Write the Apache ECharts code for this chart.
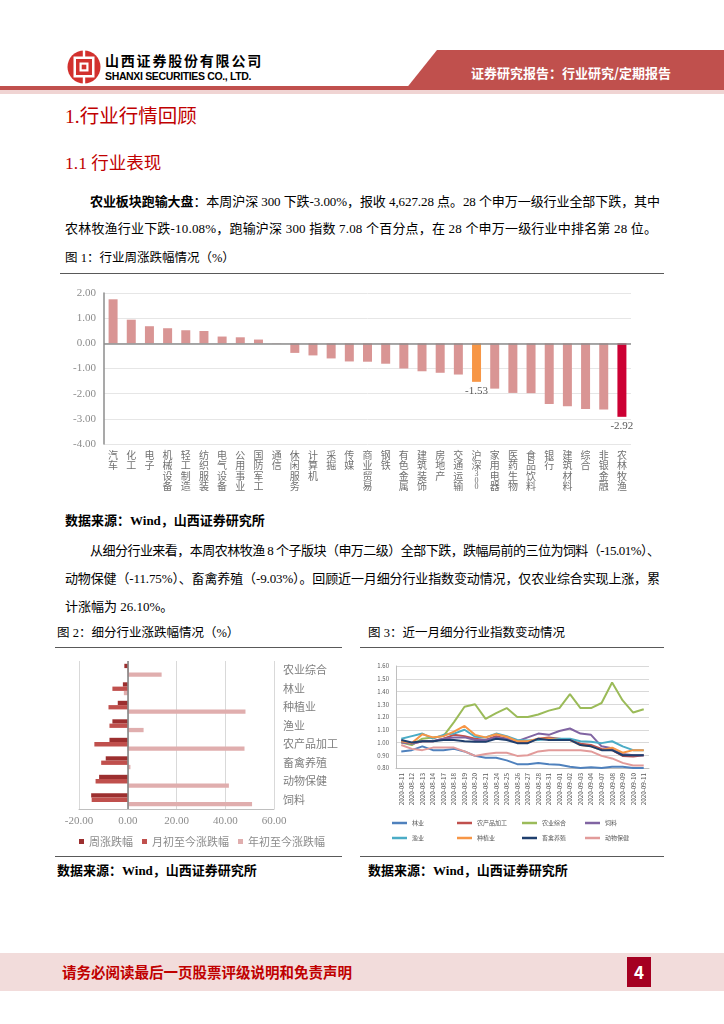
<!DOCTYPE html>
<html><head><meta charset="utf-8">
<script src="https://cdn.jsdelivr.net/npm/echarts@6/dist/echarts.min.js"></script>
<style>
html,body{margin:0;padding:0;background:#fff;}
body{width:724px;height:1024px;position:relative;overflow:hidden;font-family:"Liberation Serif","Noto Sans CJK SC",serif;color:#000;}
.a{position:absolute;white-space:nowrap;}
.t{font-size:13px;line-height:16px;}
.j{white-space:nowrap;}
.hl{position:absolute;height:1px;background:#595959;}
.sans{font-family:"Noto Sans CJK SC",sans-serif;}
</style></head>
<body>
<!-- header -->
<svg class="a" style="left:66px;top:49px" width="36" height="36" viewBox="-18 -18 36 36">
  <circle r="16.5" fill="#d2312e"/>
  <rect x="-10.5" y="-10.5" width="21" height="21" fill="#fff"/>
  <rect x="-8" y="-8" width="16" height="16" fill="#d2312e"/>
  <rect x="-4.5" y="-4.5" width="9" height="9" fill="#fff"/>
  <rect x="-2.3" y="-2.3" width="4.6" height="4.6" fill="#d2312e"/>
  <rect x="-1.2" y="-18" width="2.4" height="8" fill="#fff"/>
  <rect x="-1.2" y="10" width="2.4" height="8" fill="#fff"/>
</svg>
<div class="a sans" style="left:105px;top:51px;font-size:14px;line-height:18px;font-weight:700;letter-spacing:1.8px;">山西证券股份有限公司</div>
<div class="a" style="left:105px;top:70px;font-size:10.5px;line-height:13px;font-weight:700;font-family:'Liberation Sans',Arial,sans-serif;letter-spacing:-0.35px;">SHANXI SECURITIES CO., LTD.</div>
<div class="a" style="left:0;top:50px;width:724px;height:40px;background:#c0504d;clip-path:polygon(437px 0,724px 0,724px 100%,405px 100%);"></div>
<div class="a sans" style="left:471px;top:64px;font-size:13px;line-height:18px;font-weight:700;color:#fff;">证券研究报告：行业研究/定期报告</div>
<div class="a" style="left:0;top:86px;width:724px;height:4px;background:#c0504d;"></div>
<div class="a" style="left:0;top:90px;width:724px;height:4px;background:#f0d4d3;"></div>

<div class="a" style="left:65px;top:105px;font-size:19.5px;line-height:24px;color:#c00000;">1.行业行情回顾</div>
<div class="a" style="left:65px;top:152px;font-size:17.5px;line-height:22px;color:#c00000;">1.1 行业表现</div>

<div class="a t j" data-w="570" style="left:90px;top:193px;"><b class="sans" style="font-weight:700">农业板块跑输大盘</b>：本周沪深 300 下跌-3.00%，报收 4,627.28 点。28 个申万一级行业全部下跌，其中</div>
<div class="a t j" data-w="592" style="left:65px;top:221px;">农林牧渔行业下跌-10.08%，跑输沪深 300 指数 7.08 个百分点，在 28 个申万一级行业中排名第 28 位。</div>

<div class="a t" style="left:65px;top:250px;font-size:12.5px;">图 1：行业周涨跌幅情况（%）</div>
<div class="hl" style="left:60px;top:273px;width:604px;"></div>
<div id="c1" class="a" style="left:0;top:280px;width:724px;height:230px;"></div>
<div class="a t" style="left:65px;top:513px;font-weight:700;">数据来源：Wind，山西证券研究所</div>

<div class="a t j" data-w="570" style="left:90px;top:543px;">从细分行业来看，本周农林牧渔 8 个子版块（申万二级）全部下跌，跌幅局前的三位为饲料（-15.01%）、</div>
<div class="a t j" data-w="595" style="left:65px;top:571px;">动物保健（-11.75%）、畜禽养殖（-9.03%）。回顾近一月细分行业指数变动情况，仅农业综合实现上涨，累</div>
<div class="a t" style="left:65px;top:599px;">计涨幅为 26.10%。</div>

<div class="a t" style="left:57px;top:625px;font-size:12.5px;">图 2：细分行业涨跌幅情况（%）</div>
<div class="a t" style="left:368px;top:625px;font-size:12.5px;">图 3：近一月细分行业指数变动情况</div>
<div class="hl" style="left:55px;top:647px;width:287px;"></div>
<div class="hl" style="left:360px;top:647px;width:304px;"></div>
<div id="c2" class="a" style="left:0;top:650px;width:360px;height:200px;"></div>
<div id="c3" class="a" style="left:360px;top:650px;width:310px;height:200px;"></div>
<div class="hl" style="left:55px;top:856px;width:287px;"></div>
<div class="hl" style="left:360px;top:856px;width:304px;"></div>
<div class="a t" style="left:57px;top:863px;font-weight:700;">数据来源：Wind，山西证券研究所</div>
<div class="a t" style="left:368px;top:863px;font-weight:700;">数据来源：Wind，山西证券研究所</div>

<!-- footer -->
<div class="a" style="left:0;top:953px;width:724px;height:38px;background:#f2dcdb;"></div>
<div class="a sans" style="left:62px;top:962px;font-size:14.5px;line-height:20px;font-weight:700;color:#c00000;">请务必阅读最后一页股票评级说明和免责声明</div>
<div class="a sans" style="left:627px;top:957px;width:24px;height:30px;background:#a50021;color:#fff;font-weight:700;font-size:17px;line-height:30px;text-align:center;">4</div>

<script>
// fit justified single lines to their target width
document.querySelectorAll('.j').forEach(el=>{
  const target = parseFloat(el.getAttribute('data-w'));
  const r = document.createRange(); r.selectNodeContents(el);
  const w = r.getBoundingClientRect().width;
  const n = el.textContent.length;
  el.style.letterSpacing = ((target - w) / (n - 1)) + 'px';
});

// ---------- Figure 1 data ----------
const industries = ['汽车','化工','电子','机械设备','轻工制造','纺织服装','电气设备','公用事业','国防军工','通信','休闲服务','计算机','采掘','传媒','商业贸易','钢铁','有色金属','建筑装饰','房地产','交通运输','沪深300','家用电器','医药生物','食品饮料','银行','建筑材料','综合','非银金融','农林牧渔'];
const weeklyChange = [1.75,0.94,0.68,0.60,0.52,0.49,0.27,0.24,0.15,0.01,-0.38,-0.48,-0.60,-0.72,-0.73,-0.81,-1.00,-1.11,-1.17,-1.24,-1.53,-1.80,-1.97,-1.98,-2.41,-2.50,-2.61,-2.63,-2.92];
const fig1Ticks = [-4,-3,-2,-1,0,1,2];

// ---------- Figure 2 data ----------
const subIndustries = ['农业综合','林业','种植业','渔业','农产品加工','畜禽养殖','动物保健','饲料'];
const weekChg = [-1.4,-2.0,-4.1,-6.3,-7.5,-9.03,-11.75,-15.01];
const monthChg = [0.2,-6.3,-7.9,-7.5,-13.7,-10.9,-13.2,-14.8];
const ytdChg = [13.9,-1.6,48.3,6.5,47.9,1.1,41.5,51.0];
const fig2Names = ['周涨跌幅','月初至今涨跌幅','年初至今涨跌幅'];

// ---------- Figure 3 data ----------
const dates = ['2020-08-11','2020-08-12','2020-08-13','2020-08-14','2020-08-17','2020-08-18','2020-08-19','2020-08-20','2020-08-21','2020-08-24','2020-08-25','2020-08-26','2020-08-27','2020-08-28','2020-08-31','2020-09-01','2020-09-02','2020-09-03','2020-09-04','2020-09-07','2020-09-08','2020-09-09','2020-09-10','2020-09-11'];
const linye = [0.93,0.94,0.97,0.94,0.94,0.95,0.93,0.895,0.88,0.88,0.86,0.83,0.83,0.84,0.83,0.825,0.81,0.80,0.805,0.80,0.81,0.81,0.80,0.80];
const nongchanpin = [1.01,0.99,1.01,1.01,1.03,1.06,1.05,1.03,1.02,1.05,1.03,1.005,1.00,1.03,1.04,1.03,1.02,0.99,0.98,0.95,0.94,0.895,0.89,0.90];
const nongyezonghe = [1.00,0.98,1.03,1.04,1.05,1.16,1.28,1.30,1.185,1.23,1.27,1.20,1.20,1.22,1.25,1.27,1.38,1.27,1.27,1.31,1.47,1.33,1.235,1.261];
const siliao = [1.00,0.99,1.01,1.01,1.03,1.04,1.04,1.02,1.02,1.04,1.03,1.01,1.04,1.07,1.06,1.09,1.11,1.07,1.06,0.97,0.955,0.91,0.90,0.90];
const yuye = [1.03,1.05,1.07,1.03,1.06,1.07,1.10,1.045,1.04,1.07,1.05,1.02,1.015,1.02,1.03,1.03,1.03,1.01,1.005,0.995,1.01,0.97,0.94,0.94];
const zhongzhi = [1.01,0.995,1.065,1.04,1.05,1.085,1.13,1.06,1.04,1.065,1.045,1.01,1.01,1.03,1.03,1.02,1.02,0.98,0.97,0.94,0.96,0.92,0.94,0.94];
const chuqin = [1.02,1.00,1.01,1.01,1.02,1.02,1.01,1.005,1.005,1.03,1.02,0.995,0.995,1.03,1.02,1.02,1.02,0.98,0.97,0.94,0.94,0.90,0.90,0.90];
const dongbao = [0.98,0.95,0.94,0.96,0.96,0.96,0.93,0.895,0.91,0.92,0.92,0.895,0.90,0.93,0.94,0.94,0.94,0.94,0.93,0.895,0.875,0.84,0.82,0.82];
const fig3Names = ['林业','农产品加工','农业综合','饲料','渔业','种植业','畜禽养殖','动物保健'];
const fig3Data = [linye,nongchanpin,nongyezonghe,siliao,yuye,zhongzhi,chuqin,dongbao];

const CJK = '"Noto Sans CJK SC", sans-serif';
const NUM = '"Liberation Serif", serif';

// ---------- Chart 1 ----------
const c1 = echarts.init(document.getElementById('c1'), null, {renderer:'canvas'});
function verticalLabel(v){
  const m = v.match(/^(\D+)(\d+)$/);
  if(m){ return m[1].split('').join('\n') + '\n' + m[2].split('').map(d=>'{d|'+d+'}').join('\n'); }
  return v.split('').join('\n');
}
c1.setOption({
  animation:false,
  grid:{left:104,right:93,top:13,bottom:66},
  xAxis:{type:'category',data:industries,position:'bottom',
    axisLine:{show:false},axisTick:{show:false},
    axisLabel:{interval:0,margin:6,color:'#707070',fontSize:10,lineHeight:10.4,fontFamily:CJK,
      formatter:verticalLabel,rich:{d:{fontSize:8,lineHeight:6.5,color:'#707070',fontFamily:NUM}}}},
  yAxis:{type:'value',min:fig1Ticks[0],max:fig1Ticks[fig1Ticks.length-1],interval:1,
    axisLine:{show:true,lineStyle:{color:'#8c8c8c',width:1.5}},axisTick:{show:false},
    splitLine:{lineStyle:{color:'#e6e6e6',width:1}},
    axisLabel:{formatter:v=>v.toFixed(2),color:'#8c8c8c',fontSize:11,margin:8,fontFamily:NUM}},
  series:[{type:'bar',barWidth:9,
    data:weeklyChange.map((v,i)=>{
      const n = industries[i];
      const o = {value:v,itemStyle:{color:n==='沪深300'?'#f79646':(n==='农林牧渔'?'#cc0033':'#d99594')}};
      if(n==='沪深300'||n==='农林牧渔'){o.label={show:true,position:'bottom',distance:4,color:'#595959',fontSize:11,fontFamily:NUM,formatter:p=>p.value.toFixed(2)};}
      return o;
    }),
    markLine:{silent:true,symbol:'none',label:{show:false},lineStyle:{color:'#8c8c8c',width:1.5,type:'solid'},data:[{yAxis:0}]}
  }]
});

// ---------- Chart 2 ----------
const c2 = echarts.init(document.getElementById('c2'));
const fig2Colors = ['#9c2f2f','#c0504d','#e0aeae'];
const fig2Vals = [weekChg,monthChg,ytdChg];
c2.setOption({
  animation:false,
  grid:{left:79,right:86,top:11,bottom:41},
  legend:{data:fig2Names,left:74,top:181,icon:'rect',itemWidth:5,itemHeight:5,itemGap:9,
    textStyle:{color:'#8c8c8c',fontSize:11,fontFamily:CJK}},
  xAxis:{type:'value',min:-20,max:60,interval:20,
    axisLine:{show:true,lineStyle:{color:'#bfbfbf'}},axisTick:{show:false},
    splitLine:{lineStyle:{color:'#d9d9d9'}},
    axisLabel:{formatter:v=>v.toFixed(2),color:'#8c8c8c',fontSize:11,margin:7,fontFamily:NUM}},
  yAxis:{type:'category',data:subIndustries,inverse:true,position:'right',
    axisLine:{show:false},axisTick:{show:false},
    axisLabel:{color:'#7f7f7f',fontSize:11,margin:9,fontFamily:CJK}},
  series:fig2Names.map((n,k)=>({name:n,type:'bar',data:fig2Vals[k],barWidth:4.3,barGap:'0%',
    itemStyle:{color:fig2Colors[k]},
    markLine:k===0?{silent:true,symbol:'none',label:{show:false},lineStyle:{color:'#7f7f7f',width:1.5,type:'solid'},data:[{xAxis:0}]}:undefined}))
});

// ---------- Chart 3 ----------
const c3 = echarts.init(document.getElementById('c3'));
const fig3Colors = ['#4f81bd','#c0504d','#9bbb59','#8064a2','#4bacc6','#f79646','#1f3f6e','#e29b9a'];
const legX = [32,97,162,225], legY = [170,185];
c3.setOption({
  animation:false,
  grid:{left:36,right:21,top:16,bottom:82},
  legend:fig3Names.map((n,i)=>({data:[n],left:legX[i%4],top:legY[Math.floor(i/4)],padding:0,
    icon:'rect',itemWidth:15,itemHeight:2.5,textStyle:{color:'#595959',fontSize:6,fontFamily:CJK}})),
  xAxis:{type:'category',data:dates,boundaryGap:true,
    axisLine:{lineStyle:{color:'#bfbfbf'}},axisTick:{show:false},
    axisLabel:{interval:0,rotate:90,fontSize:6.3,color:'#595959',margin:5,fontFamily:CJK}},
  yAxis:{type:'value',min:0.8,max:1.6,interval:0.1,
    axisLine:{show:true,lineStyle:{color:'#bfbfbf'}},axisTick:{show:false},
    splitLine:{lineStyle:{color:'#d9d9d9'}},
    axisLabel:{formatter:v=>v.toFixed(2),fontSize:6,color:'#595959',margin:7,fontFamily:CJK}},
  series:fig3Names.map((n,i)=>({name:n,type:'line',data:fig3Data[i],showSymbol:false,symbol:'none',
    lineStyle:{color:fig3Colors[i],width:2},itemStyle:{color:fig3Colors[i]}}))
});
</script>
</body></html>
